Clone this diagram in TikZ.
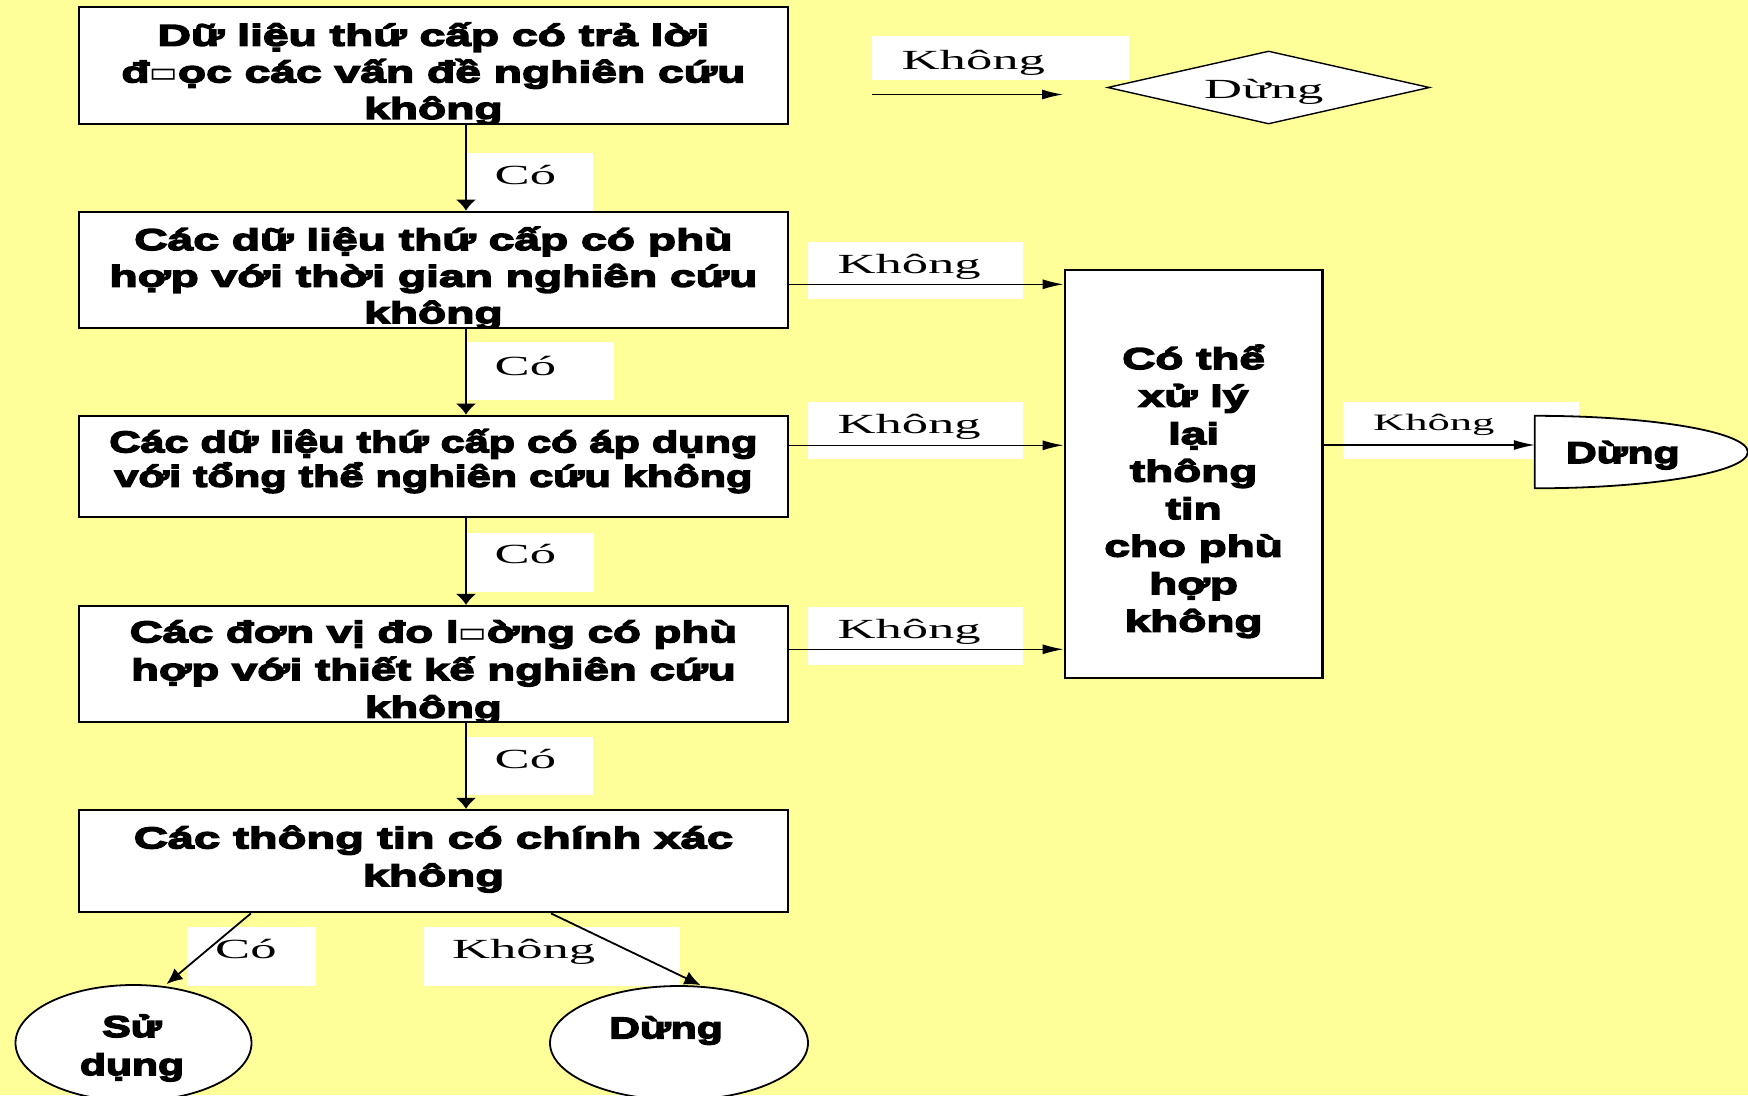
\documentclass[tikz,border=0pt]{standalone}
\usepackage{fontspec}
\usetikzlibrary{arrows.meta,shapes.geometric}
\newfontfamily\serifx{Liberation Serif}[FakeStretch=1.9]
\newfontfamily\boldx{Liberation Sans Bold}[FakeStretch=1.42,FakeBold=5]
\newfontfamily\boldab{Liberation Sans Bold}[FakeStretch=1.54,FakeBold=5]
\newfontfamily\boldc{Liberation Sans Bold}[FakeStretch=1.44,FakeBold=5]
\newfontfamily\boldd{Liberation Sans Bold}[FakeStretch=1.52,FakeBold=5]
\newfontfamily\bolde{Liberation Sans Bold}[FakeStretch=1.57,FakeBold=5]
\newfontfamily\boldr{Liberation Sans Bold}[FakeStretch=1.53,FakeBold=5]
\newfontfamily\symx{DejaVu Sans}
\definecolor{bgyellow}{RGB}{255,255,153}
\tikzset{
 box/.style={draw, line width=2.2pt, fill=white, rectangle, inner sep=0pt},
 btxt/.style={font=\boldx\fontsize{30}{36.6}\selectfont, align=center, inner sep=0pt, anchor=base},
 ltxt/.style={font=\serifx\fontsize{27.7}{33}\selectfont, inner sep=0pt, anchor=base west},
 lbl/.style={fill=white, inner sep=0pt},
 varr/.style={line width=2.8pt, -{Latex[length=11pt,width=21pt]}},
 harr/.style={line width=1.3pt, -{Latex[length=21pt,width=10pt]}},
 darr/.style={line width=1.8pt, -{Latex[length=16pt,width=14pt]}},
 shp/.style={draw, line width=1.8pt, fill=white, inner sep=0pt},
}
\newcommand{\gapbox}{{\symx\fontsize{30}{30}\selectfont ▭}}
\begin{document}
\begin{tikzpicture}[x=1pt,y=-1pt]
\fill[bgyellow] (0,0) rectangle (1748,1095);
\useasboundingbox (0,0) rectangle (1748,1095);

% label boxes
\node[lbl, minimum width=257pt, minimum height=44pt] (l0) at (1000.5,58) {};
\node[ltxt] (l0t) at (901.5,69.3) {Không};
\node[lbl, minimum width=215pt, minimum height=57.6pt] (l1) at (915.5,270.5) {};
\node[ltxt] (l1t) at (837.3,273.3) {Không};
\node[lbl, minimum width=215pt, minimum height=57.6pt] (l2) at (915.5,430.5) {};
\node[ltxt] (l2t) at (837.3,433.3) {Không};
\node[lbl, minimum width=215pt, minimum height=58.3pt] (l3) at (915.5,635.85) {};
\node[ltxt] (l3t) at (837.3,638.3) {Không};
\node[lbl, minimum width=236.5pt, minimum height=57.3pt] (lr) at (1460.75,430.35) {};
\node[ltxt, font=\serifx\fontsize{23.5}{28}\selectfont] (lrt) at (1372.8,430) {Không};
\node[lbl, minimum width=127pt, minimum height=58.4pt] (c1) at (529.5,182.5) {};
\node[ltxt] (c1t) at (494.5,184.3) {Có};
\node[lbl, minimum width=148pt, minimum height=58pt] (c2) at (540,371.2) {};
\node[ltxt] (c2t) at (494.5,375) {Có};
\node[lbl, minimum width=127pt, minimum height=58.4pt] (c3) at (530.5,562.5) {};
\node[ltxt] (c3t) at (494.5,563.3) {Có};
\node[lbl, minimum width=127pt, minimum height=58pt] (c4) at (529.5,766) {};
\node[ltxt] (c4t) at (494.5,768.5) {Có};
\node[lbl, minimum width=129pt, minimum height=58.4pt] (cb) at (251.5,956.5) {};
\node[ltxt] (cbt) at (215,958) {Có};
\node[lbl, minimum width=256.4pt, minimum height=58.4pt] (kb) at (551.8,956.5) {};
\node[ltxt] (kbt) at (451.8,958) {Không};

% main boxes
\node[box, minimum width=708.4pt, minimum height=117.3pt] (b1) at (433.4,65.35) {};
\node[box, minimum width=708.4pt, minimum height=116.6pt] (b2) at (433.4,270) {};
\node[box, minimum width=708.4pt, minimum height=101.6pt] (b3) at (433.4,466.5) {};
\node[box, minimum width=708.4pt, minimum height=115.7pt] (b4) at (433.4,663.85) {};
\node[box, minimum width=708.4pt, minimum height=102.3pt] (b5) at (433.4,861.15) {};
\node[box, minimum width=257.8pt, minimum height=408.3pt] (R) at (1193.6,474.15) {};

% texts (anchor base = baseline of the last line)
\begin{scope}
\clip ([shift={(1.2pt,-1.2pt)}]b1.north west) rectangle ([shift={(-1.2pt,1.2pt)}]b1.south east);
\node[btxt, font=\boldab\fontsize{30}{36.6}\selectfont] (t1) at (433.4,118.9) {Dữ liệu thứ cấp có trả lời\\đ\gapbox ọc các vấn đề nghiên cứu\\không};
\end{scope}
\begin{scope}
\clip ([shift={(1.2pt,-1.2pt)}]b2.north west) rectangle ([shift={(-1.2pt,1.2pt)}]b2.south east);
\node[btxt, font=\boldab\fontsize{30}{36.6}\selectfont] (t2) at (433.4,323.2) {Các dữ liệu thứ cấp có phù\\hợp với thời gian nghiên cứu\\không};
\end{scope}
\node[btxt, font=\boldc\fontsize{30}{34.4}\selectfont] (t3) at (433.4,486.7) {Các dữ liệu thứ cấp có áp dụng\\với tổng thể nghiên cứu không};
\begin{scope}
\clip ([shift={(1.2pt,-1.2pt)}]b4.north west) rectangle ([shift={(-1.2pt,1.2pt)}]b4.south east);
\node[btxt, font=\boldd\fontsize{30}{37.7}\selectfont] (t4) at (433.4,717.7) {Các đơn vị đo l\gapbox ờng có phù\\hợp với thiết kế nghiên cứu\\không};
\end{scope}
\node[btxt, font=\bolde\fontsize{30}{37.7}\selectfont] (t5) at (433.4,886) {Các thông tin có chính xác\\không};
\node[btxt, font=\boldr\fontsize{30}{37.5}\selectfont] (tR) at (1193.6,631.5) {Có thể\\xử lý\\lại\\thông\\tin\\cho phù\\hợp\\không};

% diamond stop (legend)
\node[diamond, shp, line width=1.4pt, minimum width=322pt, minimum height=73pt, aspect=4.4] (dm) at (1268.6,87.5) {};
\node[ltxt, anchor=base] (dmt) at (1263.8,98.3) {Dừng};
\coordinate (la) at (872,94.5);
\coordinate (lb) at (1063,94.5);
\draw[harr] (la) -- (lb);

% right stop (delay shape)
\node[inner sep=0pt, minimum width=213pt, minimum height=72.5pt] (st) at (1641.5,452.25) {};
\draw[shp] (st.north west) arc[start angle=-90, end angle=90, x radius=213, y radius=36.25] -- cycle;
\node[btxt] (stt) at (1622.8,463) {Dừng};

% bottom ellipses
\node[ellipse, shp, minimum width=236pt, minimum height=116pt] (su) at (133.5,1043) {};
\node[btxt, font=\boldx\fontsize{30}{38}\selectfont] (sut) at (132,1075) {Sử\\dụng};
\node[ellipse, shp, minimum width=258pt, minimum height=114pt] (dz) at (679,1043) {};
\node[btxt] (dzt) at (666,1038.3) {Dừng};

% connectors
\draw[varr] ([xshift=32.6pt]b1.south) -- ([xshift=32.6pt]b1.south |- b2.north);
\draw[varr] ([xshift=32.6pt]b2.south) -- ([xshift=32.6pt]b2.south |- b3.north);
\draw[varr] ([xshift=32.6pt]b3.south) -- ([xshift=32.6pt]b3.south |- b4.north);
\draw[varr] ([xshift=32.6pt]b4.south) -- ([xshift=32.6pt]b4.south |- b5.north);
\draw[harr] ([yshift=-14.3pt]b2.east) -- ([yshift=-14.3pt]b2.east -| R.west);
\draw[harr] ([yshift=21.2pt]b3.east) -- ([yshift=21.2pt]b3.east -| R.west);
\draw[harr] ([yshift=14.55pt]b4.east) -- ([yshift=14.55pt]b4.east -| R.west);
\draw[harr] ([yshift=29.15pt]R.east) -- ([yshift=29.15pt]R.east -| st.west);
\draw[darr] ([xshift=-182.5pt]b5.south) -- ([xshift=33pt]su.north);
\draw[darr] ([xshift=117.6pt]b5.south) -- ([xshift=21.4pt]dz.north);
\end{tikzpicture}
\end{document}
